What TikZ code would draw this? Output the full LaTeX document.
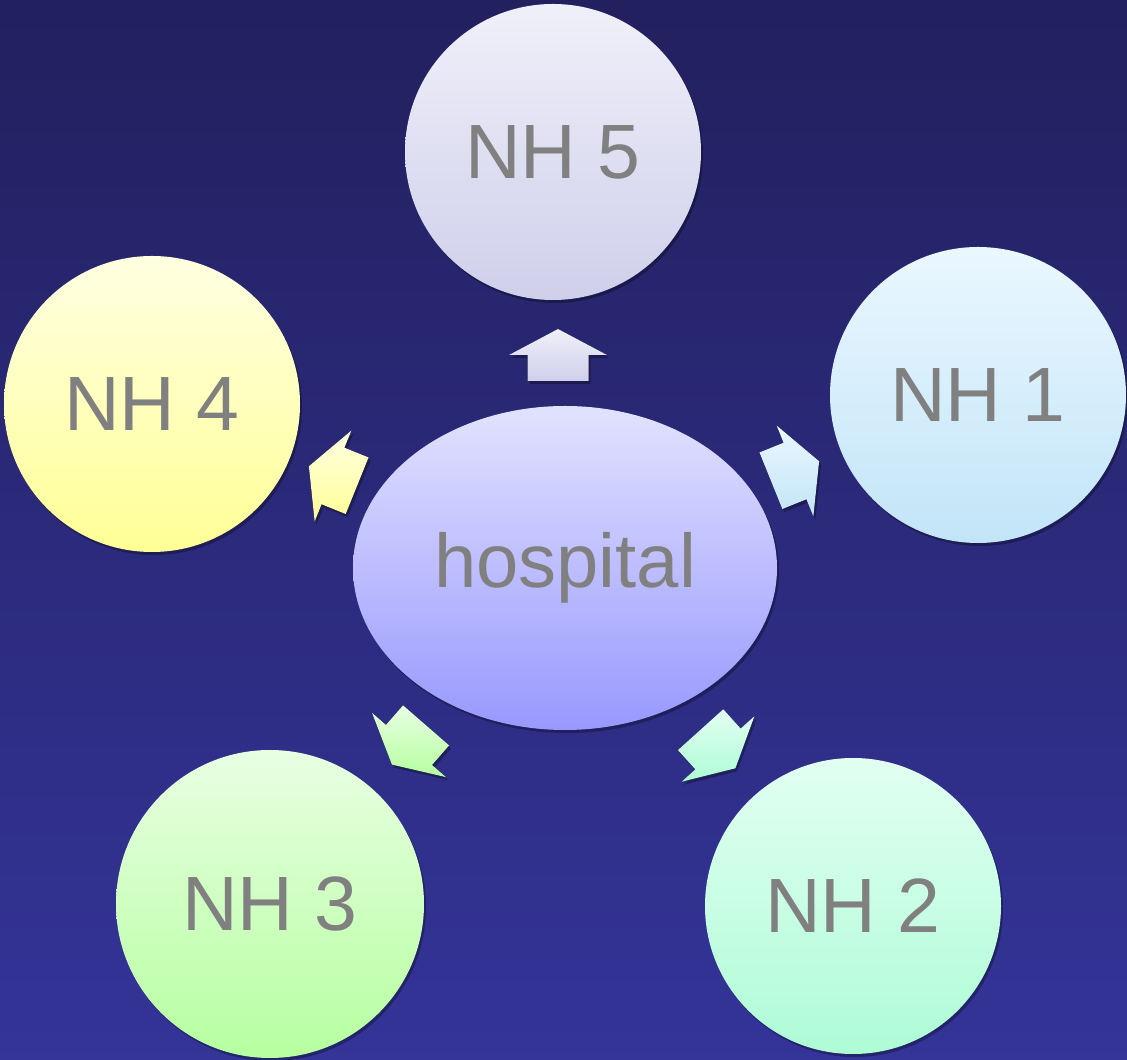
\documentclass[tikz,border=0pt]{standalone}
\usepackage{fontspec}
\setmainfont{Liberation Sans}
\usetikzlibrary{shapes.geometric,shadows}
\definecolor{bgtop}{HTML}{22205E}
\definecolor{bgbot}{HTML}{343499}
\definecolor{txt}{HTML}{808080}
\definecolor{fiveT}{HTML}{F0F0FA}\definecolor{fiveB}{HTML}{CFCFEB}
\definecolor{oneT}{HTML}{EAF7FF}\definecolor{oneB}{HTML}{C2E5F8}
\definecolor{fourT}{HTML}{FFFFE2}\definecolor{fourB}{HTML}{FFFF96}
\definecolor{threeT}{HTML}{E8FFE2}\definecolor{threeB}{HTML}{B6FFA0}
\definecolor{twoT}{HTML}{E2FFF2}\definecolor{twoB}{HTML}{AEFCD6}
\definecolor{hospT}{HTML}{E2E2FF}\definecolor{hospB}{HTML}{9898FF}
\newcommand\blockarr[4]{%
  \fill[arrsty, top color=#3, bottom color=#4]
    ([shift={(#1)},rotate=#2]-26,-30.5) -- ([shift={(#1)},rotate=#2]0,-30.5)
    -- ([shift={(#1)},rotate=#2]0,-49) -- ([shift={(#1)},rotate=#2]26,0)
    -- ([shift={(#1)},rotate=#2]0,49) -- ([shift={(#1)},rotate=#2]0,30.5)
    -- ([shift={(#1)},rotate=#2]-26,30.5) -- cycle;}
\begin{document}
\begin{tikzpicture}[x=1pt,y=1pt,
  shd/.style={drop shadow={shadow xshift=2pt,shadow yshift=-3pt,opacity=0.3,fill=black}},
  nh/.style={circle,inner sep=0pt,minimum size=296pt,shd,text=txt,
    font=\fontsize{77}{92}\selectfont},
  arrsty/.style={shd}]
\shade[top color=bgtop,bottom color=bgbot] (0,0) rectangle (1127,1060);
\useasboundingbox (0,0) rectangle (1127,1060);
\node[nh,top color=fiveT,bottom color=fiveB] (n5) at (553,908) {NH 5};
\node[nh,top color=oneT,bottom color=oneB] (n1) at (978,665) {NH 1};
\node[nh,top color=fourT,bottom color=fourB] (n4) at (152,656) {NH 4};
\node[nh,minimum size=308pt,top color=threeT,bottom color=threeB] (n3) at (270,156) {NH 3};
\node[nh,top color=twoT,bottom color=twoB] (n2) at (853,154) {NH 2};
\node[ellipse,inner sep=0pt,minimum width=424pt,minimum height=324pt,shd,
  top color=hospT,bottom color=hospB,text=txt,font=\fontsize{76}{90}\selectfont]
  (h) at (565,492) {hospital};
\coordinate (a5) at (558,705);
\coordinate (a1) at (795,589);
\coordinate (a4) at (333,584);
\coordinate (a3) at (409,315);
\coordinate (a2) at (718,311);
\blockarr{a5}{90}{fiveT}{fiveB}
\blockarr{a1}{22}{oneT}{oneB}
\blockarr{a4}{158}{fourT}{fourB}
\blockarr{a3}{229}{threeT}{threeB}
\blockarr{a2}{-48}{twoT}{twoB}
\end{tikzpicture}
\end{document}
